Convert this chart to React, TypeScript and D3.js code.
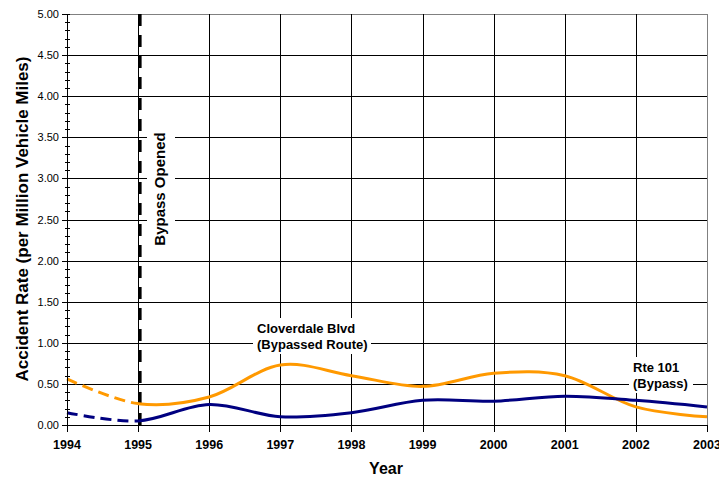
import React from "react";
import * as d3 from "d3";

const years = [1994, 1995, 1996, 1997, 1998, 1999, 2000, 2001, 2002, 2003];
const cloverdale = [0.56, 0.26, 0.34, 0.73, 0.6, 0.47, 0.63, 0.6, 0.22, 0.1];
const rte101 = [0.15, 0.05, 0.25, 0.1, 0.15, 0.3, 0.29, 0.35, 0.3, 0.22];
const yTicks = [0, 0.5, 1, 1.5, 2, 2.5, 3, 3.5, 4, 4.5, 5];
const yMinor = d3.range(0, 5.0001, 0.1);
const bypassYear = 1995;

const W = 719, H = 481;
const L = 67, R = 707, T = 14, B = 425;

export default function App() {
  const x = d3.scaleLinear().domain([1994, 2003]).range([L, R]);
  const y = d3.scaleLinear().domain([0, 5]).range([B, T]);
  const line = d3
    .line<number>()
    .x((_, i) => x(years[i]))
    .y((d) => y(d))
    .curve(d3.curveCardinal.tension(0));
  const font = "Arial, 'Liberation Sans', sans-serif";
  const bx = x(bypassYear);
  return (
    <svg width={W} height={H} style={{ position: "absolute", left: 0, top: 0 }} fontFamily={font}>
      <defs>
        <clipPath id="before">
          <rect x={0} y={0} width={bx} height={H} />
        </clipPath>
        <clipPath id="after">
          <rect x={bx} y={0} width={W - bx} height={H} />
        </clipPath>
      </defs>
      <rect x={0} y={0} width={W} height={H} fill="#fff" />
      {/* gridlines */}
      {yTicks.map((t) => (
        <line key={"hg" + t} x1={L} x2={R} y1={Math.round(y(t)) + 0.5} y2={Math.round(y(t)) + 0.5}
          stroke={t === 5 ? "#808080" : "#000"} strokeWidth={1} />
      ))}
      {years.map((yr) => (
        <line key={"vg" + yr} x1={Math.round(x(yr)) + 0.5} x2={Math.round(x(yr)) + 0.5} y1={T} y2={B}
          stroke={yr === 2003 ? "#808080" : "#000"} strokeWidth={1} />
      ))}
      {/* label backgrounds and labels */}
      <rect x={253} y={318} width={118} height={36} fill="#fff" />
      <text x={257} y={333} fontSize={13} fontWeight="bold">Cloverdale Blvd</text>
      <text x={257} y={349} fontSize={13} fontWeight="bold">(Bypassed Route)</text>
      <rect x={629} y={357} width={64} height={36} fill="#fff" />
      <text x={633} y={372} fontSize={13} fontWeight="bold">Rte 101</text>
      <text x={633} y={388} fontSize={13} fontWeight="bold">(Bypass)</text>
      <rect x={147} y={124} width={28} height={130} fill="#fff" />
      <text transform={`translate(164.5,189) rotate(-90)`} textAnchor="middle" fontSize={15} fontWeight="bold">
        Bypass Opened
      </text>
      {/* bypass line */}
      <line x1={bx + 2} x2={bx + 2} y1={T} y2={B + 8} stroke="#000" strokeWidth={3} strokeDasharray="12,9" />
      {/* series */}
      <path d={line(cloverdale) || ""} fill="none" stroke="#FF9900" strokeWidth={3} strokeDasharray="11,6" clipPath="url(#before)" />
      <path d={line(cloverdale) || ""} fill="none" stroke="#FF9900" strokeWidth={3} clipPath="url(#after)" />
      <path d={line(rte101) || ""} fill="none" stroke="#000080" strokeWidth={3} strokeDasharray="11,6" clipPath="url(#before)" />
      <path d={line(rte101) || ""} fill="none" stroke="#000080" strokeWidth={3} clipPath="url(#after)" />
      {/* axes */}
      <line x1={L + 0.5} x2={L + 0.5} y1={T} y2={B + 7} stroke="#000" />
      <line x1={L} x2={R + 1} y1={B + 0.5} y2={B + 0.5} stroke="#000" />
      {yMinor.map((t, i) => (
        <line key={"ym" + i} x1={L - 2} x2={L + 3} y1={Math.round(y(t)) + 0.5} y2={Math.round(y(t)) + 0.5} stroke="#000" />
      ))}
      {yTicks.map((t) => (
        <line key={"yt" + t} x1={L - 5} x2={L} y1={Math.round(y(t)) + 0.5} y2={Math.round(y(t)) + 0.5} stroke="#000" />
      ))}
      {years.map((yr) => (
        <line key={"xt" + yr} x1={Math.round(x(yr)) + 0.5} x2={Math.round(x(yr)) + 0.5} y1={B} y2={B + 7} stroke="#000" />
      ))}
      {yTicks.map((t) => (
        <text key={"yl" + t} x={59} y={y(t) + 4} fontSize={11} textAnchor="end">{t.toFixed(2)}</text>
      ))}
      {years.map((yr) => (
        <text key={"xl" + yr} x={x(yr)} y={449} fontSize={12.5} fontWeight="bold" textAnchor="middle">{yr}</text>
      ))}
      <text x={386} y={474} fontSize={16} fontWeight="bold" textAnchor="middle">Year</text>
      <text transform={`translate(28,219) rotate(-90)`} fontSize={17} fontWeight="bold" textAnchor="middle">
        Accident Rate (per Million Vehicle Miles)
      </text>
    </svg>
  );
}
